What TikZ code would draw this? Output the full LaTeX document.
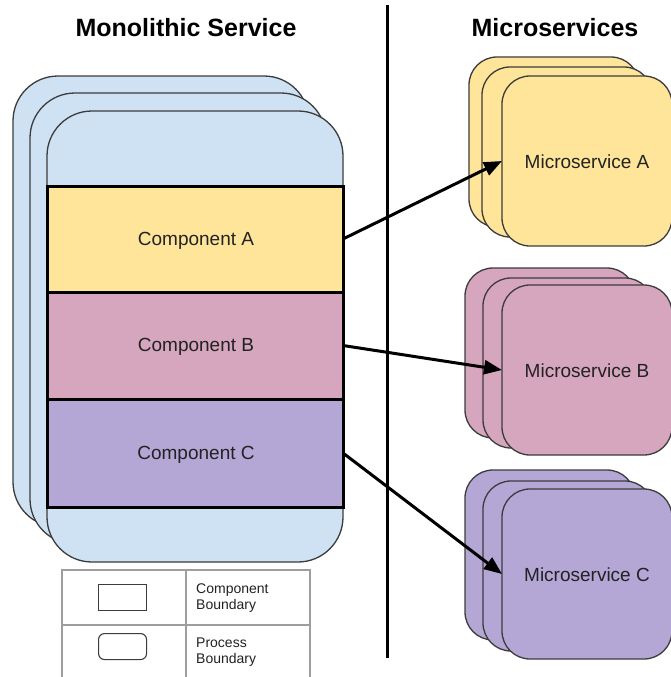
\documentclass[tikz,border=0pt]{standalone}
\usepackage{fontspec}
\setmainfont{Liberation Sans}
\usetikzlibrary{arrows.meta}
\definecolor{mblue}{HTML}{CFE2F3}
\definecolor{myellow}{HTML}{FFE599}
\definecolor{mpink}{HTML}{D5A6BD}
\definecolor{mpurple}{HTML}{B4A7D6}
\definecolor{edgegray}{HTML}{3C3C3C}
\definecolor{leggray}{HTML}{9E9E9E}
\definecolor{txt}{HTML}{222222}
\begin{document}
\begin{tikzpicture}[x=1pt,y=-1pt,
  proc/.style={draw=edgegray, line width=1.3pt, anchor=north west, inner sep=0pt, outer sep=0pt},
  mono/.style={proc, fill=mblue, minimum width=296pt, minimum height=451pt, rounded corners=45pt},
  micro/.style={proc, minimum width=170pt, minimum height=170pt, rounded corners=28pt,
     text=txt, font=\fontsize{19pt}{22pt}\selectfont},
  comp/.style={draw=black, line width=3pt, anchor=north west, inner sep=0pt, outer sep=0pt,
     minimum width=296pt, text=txt, font=\fontsize{19pt}{22pt}\selectfont},
  lbl/.style={inner sep=0pt, text=txt, font=\fontsize{19pt}{22pt}\selectfont},
  title/.style={font=\bfseries\fontsize{25pt}{28pt}\selectfont, text=black},
  arr/.style={line width=3pt, -{Triangle[length=18pt,width=14pt]}},
  legline/.style={draw=leggray, line width=1.2pt},
  legicon/.style={draw=edgegray, line width=1.1pt, minimum width=48pt, minimum height=26pt, inner sep=0pt, anchor=north west},
  legtext/.style={anchor=west, align=left, inner sep=0pt, text=txt, font=\fontsize{14pt}{16pt}\selectfont}
]
\useasboundingbox (0,0) rectangle (670,677);
\fill[white] (0,0) rectangle (670,677);

% titles
\node[title] (t1) at (186,28) {Monolithic Service};
\node[title] (t2) at (555,28) {Microservices};

% divider
\coordinate (dtop) at (387,5);
\coordinate (dbot) at (387,658);
\draw[line width=3pt] (dtop) -- (dbot);

% monolith stack
\node[mono] (mono3) at (13,76) {};
\node[mono] (mono2) at (30,93) {};
\node[mono] (mono1) at (47,111) {};

% components
\node[comp, fill=myellow, minimum height=106pt] (compA) at (47,186) {};
\node[comp, fill=mpink, minimum height=107pt] (compB) at (47,292) {};
\node[comp, fill=mpurple, minimum height=108pt] (compC) at (47,399) {};
\node[lbl] (compAl) at (196,241) {Component A};
\node[lbl] (compBl) at (196,347) {Component B};
\node[lbl] (compCl) at (196,455) {Component C};

% microservice A
\node[micro, fill=myellow] (msA3) at (469,57) {};
\node[micro, fill=myellow] (msA2) at (482,67) {};
\node[micro, fill=myellow] (msA) at (502,76) {};
\node[lbl] (msAl) at (587,162) {Microservice A};
% microservice B
\node[micro, fill=mpink] (msB3) at (465,268) {};
\node[micro, fill=mpink] (msB2) at (483,278) {};
\node[micro, fill=mpink] (msB) at (502,285) {};
\node[lbl] (msBl) at (587,371) {Microservice B};
% microservice C
\node[micro, fill=mpurple] (msC3) at (465,470) {};
\node[micro, fill=mpurple] (msC2) at (483,481) {};
\node[micro, fill=mpurple] (msC) at (502,489) {};
\node[lbl] (msCl) at (587,575) {Microservice C};

% arrows
\draw[arr] (compA.east) -- (msA.west);
\draw[arr] (compB.east) -- (msB.west);
\draw[arr] (compC.east) -- (msC.west);

% legend
\coordinate (lg1) at (62,570);
\coordinate (lg2) at (310,700);
\coordinate (lgc1) at (186,570);
\coordinate (lgc2) at (186,700);
\coordinate (lgr1) at (62,625);
\coordinate (lgr2) at (310,625);
\draw[legline] (lg1) rectangle (lg2);
\draw[legline] (lgc1) -- (lgc2);
\draw[legline] (lgr1) -- (lgr2);
\node[legicon] (li1) at (98,584) {};
\node[legicon, rounded corners=6pt] (li2) at (98,633) {};
\node[legtext] (lt1) at (196,598) {Component\\Boundary};
\node[legtext] (lt2) at (196,652) {Process\\Boundary};
\end{tikzpicture}
\end{document}
